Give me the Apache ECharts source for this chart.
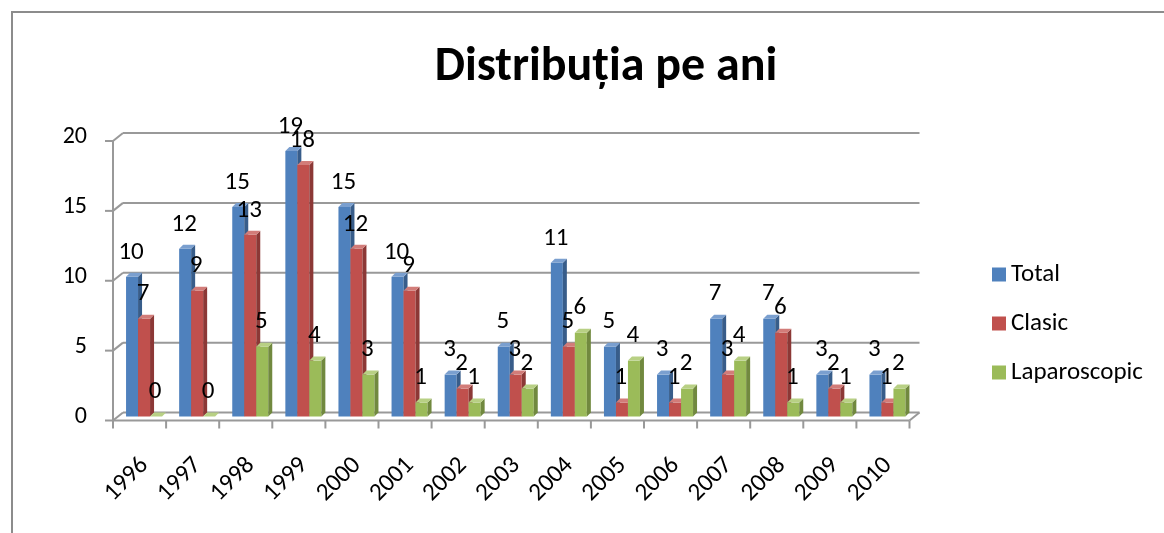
<!DOCTYPE html>
<html>
<head>
<meta charset="utf-8">
<style>
  html, body { margin: 0; padding: 0; background: #fff; }
  #chart { width: 1164px; height: 533px; }
</style>
<script src="https://cdn.jsdelivr.net/npm/echarts@6/dist/echarts.min.js"></script>
</head>
<body>
<div id="chart"></div>
<script>
const years = ['1996', '1997', '1998', '1999', '2000', '2001', '2002', '2003', '2004', '2005', '2006', '2007', '2008', '2009', '2010']
const total = [10, 12, 15, 19, 15, 10, 3, 5, 11, 5, 3, 7, 7, 3, 3]
const clasic = [7, 9, 13, 18, 12, 9, 2, 3, 5, 1, 1, 3, 6, 2, 1]
const laparoscopic = [0, 0, 5, 4, 3, 1, 1, 2, 6, 4, 2, 4, 1, 1, 2]
const yTicks = [0, 5, 10, 15, 20]

const font = 'Carlito, "Liberation Sans Narrow", "Open Sans", sans-serif'
const faces = [
  { front: '#4F81BD', side: '#385D8A', top: '#7A9FCF' },
  { front: '#C0504D', side: '#8C3836', top: '#D27C79' },
  { front: '#9BBB59', side: '#71893F', top: '#B8D084' }
]
const D = 4 // depth of the fake 3d
const BAR_W = 12

// bars drawn by hand so they get a side and a top face
const barRender = (k) => (params, api) => {
  const ci = api.value(0)
  const v = api.value(1)
  const base = api.coord([ci, 0])
  const top = api.coord([ci, v])
  const x0 = base[0] - 18.5 + k * BAR_W
  const x1 = x0 + BAR_W
  const c = faces[k]
  return {
    type: 'group',
    children: [
      {
        type: 'rect',
        shape: { x: x0, y: top[1], width: BAR_W, height: base[1] - top[1] },
        style: { fill: c.front }
      },
      {
        type: 'polygon',
        shape: { points: [[x1, top[1]], [x1 + D, top[1] - D], [x1 + D, base[1] - D], [x1, base[1]]] },
        style: { fill: c.side }
      },
      {
        type: 'polygon',
        shape: { points: [[x0, top[1]], [x0 + D, top[1] - D], [x1 + D, top[1] - D], [x1, top[1]]] },
        style: { fill: c.top }
      },
      {
        type: 'text',
        z2: 100,
        style: {
          text: String(v),
          x: x0 + BAR_W / 2 - 1,
          y: top[1] - 24.5,
          align: 'center',
          verticalAlign: 'middle',
          fontSize: 25,
          fontFamily: font,
          fill: '#000'
        }
      }
    ]
  }
}

// walls, floor and ticks of the 3d box
const frameRender = (params, api) => {
  const cs = params.coordSys
  const v = api.value(1)
  const py = api.coord([0, v])[1]
  const left = cs.x
  const right = cs.x + cs.width
  const ls = { stroke: '#999999', lineWidth: 2 }
  const line = (x1, y1, x2, y2) => ({ type: 'line', shape: { x1, y1, x2, y2 }, style: ls })
  const children = [
    line(left + 5, py - D, right + 5, py - D),
    line(left - 5, py + D, left + 5, py - D),
    line(left - 13, py + D, left - 5, py + D)
  ]
  if (v === 0) {
    const bottom = py
    const topY = api.coord([0, yTicks[yTicks.length - 1]])[1]
    children.push(line(left - 5, topY + D, left - 5, bottom + D))
    children.push(line(left - 5, bottom + D, right - 5, bottom + D))
    children.push(line(right - 5, bottom + D, right + 5, bottom - D))
    const catW = cs.width / years.length
    for (let i = 0; i <= years.length; i++) {
      const x = left - 5 + i * catW
      children.push(line(x, bottom + D, x, bottom + D + 8))
    }
  }
  return { type: 'group', children }
}

const chartDom = document.getElementById('chart')
const myChart = echarts.init(chartDom)
const option = {
  animation: false,
  color: faces.map(f => f.front),
  textStyle: { fontFamily: font, color: '#000' },
  title: {
    text: 'Distribuția pe ani',
    left: 601,
    top: 39,
    textAlign: 'center',
    textStyle: { fontSize: 48, fontWeight: 'bold', fontFamily: font, color: '#000' }
  },
  graphic: [
    {
      type: 'rect',
      shape: { x: 12, y: 12, width: 1200, height: 600 },
      style: { fill: 'none', stroke: '#8c8c8c', lineWidth: 2 },
      silent: true
    }
  ],
  legend: {
    orient: 'vertical',
    left: 987,
    top: 257,
    itemWidth: 14,
    itemHeight: 14,
    itemGap: 24,
    icon: 'rect',
    data: ['Total', 'Clasic', 'Laparoscopic'],
    textStyle: { fontSize: 25, fontFamily: font, color: '#000' }
  },
  grid: {
    left: 118,
    right: 249.5,
    top: 137,
    bottom: 116.5
  },
  xAxis: {
    type: 'category',
    data: years,
    axisLine: { show: false },
    axisTick: { show: false },
    axisLabel: {
      rotate: 45,
      margin: 45,
      fontSize: 25,
      fontFamily: font,
      color: '#000',
      interval: 0
    }
  },
  yAxis: {
    type: 'value',
    min: 0,
    max: 20,
    interval: 5,
    axisLine: { show: false },
    axisTick: { show: false },
    splitLine: { show: false },
    axisLabel: {
      margin: 31,
      fontSize: 24,
      fontFamily: font,
      color: '#000',
      padding: [8, 0, 0, 0]
    }
  },
  series: [
    {
      name: 'frame',
      type: 'custom',
      z: 1,
      silent: true,
      renderItem: frameRender,
      data: yTicks.map(v => [0, v])
    },
    {
      name: 'Total',
      type: 'custom',
      z: 3,
      renderItem: barRender(0),
      itemStyle: { color: faces[0].front },
      data: total.map((v, i) => [i, v])
    },
    {
      name: 'Clasic',
      type: 'custom',
      z: 3,
      renderItem: barRender(1),
      itemStyle: { color: faces[1].front },
      data: clasic.map((v, i) => [i, v])
    },
    {
      name: 'Laparoscopic',
      type: 'custom',
      z: 3,
      renderItem: barRender(2),
      itemStyle: { color: faces[2].front },
      data: laparoscopic.map((v, i) => [i, v])
    }
  ]
}
option && myChart.setOption(option)
</script>
</body>
</html>
